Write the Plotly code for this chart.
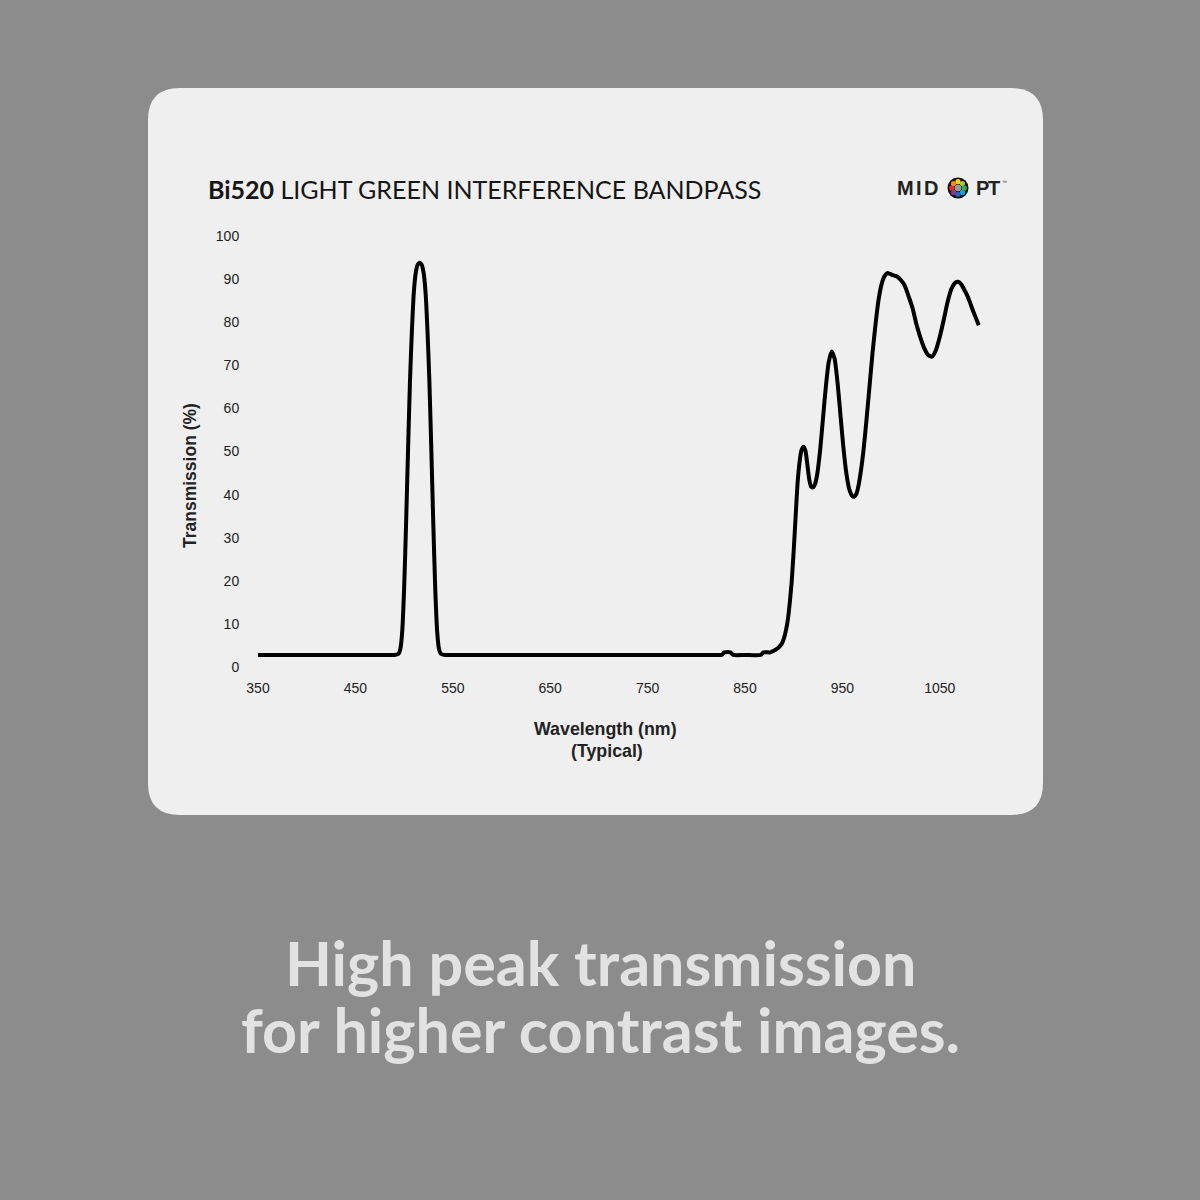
import plotly.graph_objects as go
import math

# ---- data ----
wavelength_nm = [350, 400, 450, 490, 494, 496, 498, 500, 502, 504, 506, 508, 510, 512, 514, 516, 518, 520,
                 522, 524, 526, 528, 530, 532, 534, 536, 538, 542, 580, 650, 720, 790, 820,
                 826, 829, 835, 838, 850, 866, 869, 876, 880, 884, 888, 891, 894, 896, 898, 900, 902,
                 904, 906, 908, 910, 912, 914, 916, 918, 920, 922, 924, 927, 930, 933, 936, 939,
                 942, 945, 948, 951, 954, 957, 960, 962, 964, 966, 969, 972, 975, 978, 981, 984,
                 987, 990, 993, 996, 999, 1002, 1006, 1010, 1014, 1018, 1022, 1026, 1030, 1034,
                 1038, 1042, 1046, 1050, 1054, 1058, 1062, 1066, 1069, 1072, 1075, 1078, 1081,
                 1084, 1087, 1090]
transmission_pct = [2.8, 2.8, 2.8, 2.8, 3.0, 4.0, 8, 18, 33, 50, 66, 78, 87, 91.5, 93.4, 93.8, 93.4, 91.5,
                    87, 78, 66, 50, 33, 18, 8, 4.0, 3.0, 2.8, 2.8, 2.8, 2.8, 2.8, 2.8,
                    2.8, 3.4, 3.4, 2.8, 2.8, 2.8, 3.4, 3.4, 3.8, 4.4, 5.5, 7.5, 11, 15, 20, 27, 35,
                    42.7, 47.5, 50.3, 51.1, 50.2, 47, 43.5, 41.8, 41.7, 42.5, 44.5, 50, 57.5, 65, 70.8, 73.2,
                    71.5, 66, 58.5, 51, 45, 41.3, 39.7, 39.5, 40.0, 41.5, 45.5, 51, 58, 65.5, 73, 79.5,
                    85, 88.6, 90.6, 91.4, 91.2, 90.9, 90.6, 89.8, 88.5, 86, 83.3, 79.5, 76.5, 74,
                    72.4, 72, 73.5, 76.6, 80.5, 84.7, 87.8, 89.2, 89.4, 88.8, 87.6, 86.3, 84.6,
                    82.7, 81, 79.3]

x_ticks = [350, 450, 550, 650, 750, 850, 950, 1050]
y_ticks = [0, 10, 20, 30, 40, 50, 60, 70, 80, 90, 100]

title_bold = "Bi520"
title_rest = "LIGHT GREEN INTERFERENCE BANDPASS"
x_title = ["Wavelength (nm)", "(Typical)"]
y_title = "Transmission (%)"
caption = ["High peak transmission", "for higher contrast images."]

W = H = 1200
BG = "#8c8c8c"
CARD = "#efefef"


def px(x):
    return x / W


def py(y):
    return 1 - y / H


fig = go.Figure()
fig.add_trace(go.Scatter(
    x=wavelength_nm, y=transmission_pct, mode="lines",
    line=dict(color="#000000", width=4, shape="spline", smoothing=0.6),
    hoverinfo="skip", showlegend=False,
))

# rounded card
x0, x1, y0, y1, r = 148, 1043, 88, 815, 32
path = (f"M {px(x0 + r)},{py(y0)} L {px(x1 - r)},{py(y0)} Q {px(x1)},{py(y0)} {px(x1)},{py(y0 + r)} "
        f"L {px(x1)},{py(y1 - r)} Q {px(x1)},{py(y1)} {px(x1 - r)},{py(y1)} "
        f"L {px(x0 + r)},{py(y1)} Q {px(x0)},{py(y1)} {px(x0)},{py(y1 - r)} "
        f"L {px(x0)},{py(y0 + r)} Q {px(x0)},{py(y0)} {px(x0 + r)},{py(y0)} Z")
shapes = [dict(type="path", xref="paper", yref="paper", path=path,
               fillcolor=CARD, line=dict(width=0), layer="below")]

# MIDOPT logo circle
cx, cy, cr = 958, 188, 10.5


def circ(x, y, rad, color):
    return dict(type="circle", xref="paper", yref="paper",
                x0=px(x - rad), x1=px(x + rad), y0=py(y + rad), y1=py(y - rad),
                fillcolor=color, line=dict(width=0), layer="above")


shapes.append(circ(cx, cy, cr, "#111111"))
dot_colors = ["#f7d417", "#9ccb3b", "#2db34a", "#13a7d8", "#2463b8", "#7b3f98", "#e52a2a", "#f58a1f"]
for i, c in enumerate(dot_colors):
    ang = math.pi / 2 - i * 2 * math.pi / 8
    shapes.append(circ(cx + 6.3 * math.cos(ang), cy - 6.3 * math.sin(ang), 2.6, c))
shapes.append(circ(cx, cy, 3.3, "#9a9a9a"))

annotations = [
    dict(text=f"<b>{title_bold}</b> {title_rest}", x=px(206), y=py(189), xref="paper", yref="paper",
         xanchor="left", yanchor="middle", showarrow=False,
         font=dict(family="Lato", size=25, color="#161616")),
    dict(text="<b>" + x_title[0] + "</b>", x=px(605), y=py(729),
         xref="paper", yref="paper", xanchor="center", yanchor="middle", showarrow=False,
         font=dict(family="Liberation Sans", size=17.8, color="#222222")),
    dict(text="<b>" + x_title[1] + "</b>", x=px(607), y=py(751),
         xref="paper", yref="paper", xanchor="center", yanchor="middle", showarrow=False,
         font=dict(family="Liberation Sans", size=17.8, color="#222222")),
    dict(text=f"<b>{y_title}</b>", x=px(190), y=py(476), xref="paper", yref="paper",
         xanchor="center", yanchor="middle", showarrow=False, textangle=-90,
         font=dict(family="Liberation Sans", size=17.5, color="#222222")),
    dict(text=f"<b>{caption[0]}</b>", x=px(600), y=py(962), xref="paper", yref="paper",
         xanchor="center", yanchor="middle", showarrow=False,
         font=dict(family="Lato", size=61, color="#e2e2e2")),
    dict(text=f"<b>{caption[1]}</b>", x=px(600), y=py(1029), xref="paper", yref="paper",
         xanchor="center", yanchor="middle", showarrow=False,
         font=dict(family="Lato", size=61, color="#e2e2e2")),
]

for letter, lx in [("M", 905.5), ("I", 919), ("D", 931), ("P", 982), ("T", 994)]:
    annotations.append(dict(text=f"<b>{letter}</b>", x=px(lx), y=py(188), xref="paper", yref="paper",
                            xanchor="center", yanchor="middle", showarrow=False,
                            font=dict(family="Liberation Sans", size=20, color="#222222")))
annotations.append(dict(text="™", x=px(1004), y=py(182), xref="paper", yref="paper",
                        xanchor="center", yanchor="middle", showarrow=False,
                        font=dict(family="Liberation Sans", size=5, color="#1e1e1e")))

fig.update_layout(
    width=W, height=H, autosize=False,
    paper_bgcolor=BG, plot_bgcolor="rgba(0,0,0,0)",
    margin=dict(l=0, r=0, t=0, b=0, pad=0, autoexpand=False),
    shapes=shapes, annotations=annotations,
    xaxis=dict(range=[350, 1100], domain=[px(258), px(988.5)], tickvals=x_ticks, automargin=False,
               showgrid=False, zeroline=False, showline=False, ticks="outside", ticklen=0,
               ticklabelstandoff=8, tickfont=dict(family="Liberation Sans", size=14, color="#222222")),
    yaxis=dict(range=[0, 100], domain=[py(667), py(236)], tickvals=y_ticks, automargin=False,
               showgrid=False, zeroline=False, showline=False, ticks="outside", ticklen=0,
               ticklabelstandoff=15, tickfont=dict(family="Liberation Sans", size=14, color="#222222")),
)

fig.write_html("out.html", config={"responsive": False, "displayModeBar": False},
               post_script="document.body.style.margin='0';document.body.style.overflow='hidden';")
